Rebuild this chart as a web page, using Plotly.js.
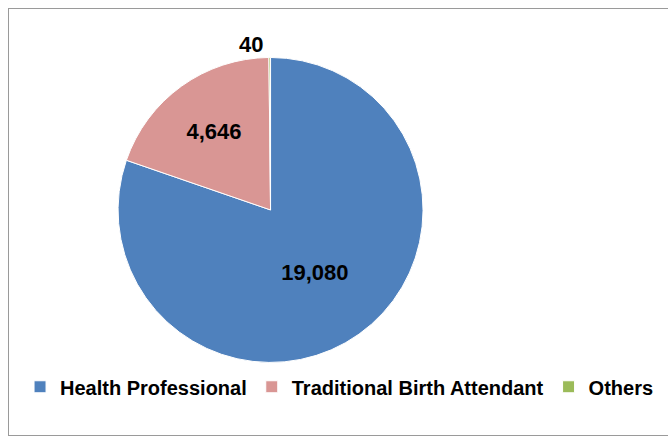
<!DOCTYPE html>
<html>
<head>
<meta charset="utf-8">
<script src="https://cdn.plot.ly/plotly-3.0.1.min.js"></script>
<style>
  html, body { margin: 0; padding: 0; background: #ffffff; }
  #frame { position: absolute; left: 8px; top: 8px; width: 668px; height: 428px; border: 1px solid #9a9a9a; box-sizing: border-box; }
  #chart { position: absolute; left: 0; top: 0; width: 668px; height: 442px; }
</style>
</head>
<body>
<div id="frame"></div>
<div id="chart"></div>
<script>
const categories = ["Health Professional", "Traditional Birth Attendant", "Others"];
const values = [19080, 4646, 40];
const colors = ["#4F81BD", "#D99694", "#9BBB59"];
const textPositions = ["inside", "inside", "outside"];

const fontFamily = "'Liberation Sans', Arial, sans-serif";

const data = [{
  type: "pie",
  labels: categories,
  values: values,
  sort: false,
  direction: "clockwise",
  rotation: 0,
  marker: { colors: colors, line: { color: "#ffffff", width: 1 } },
  texttemplate: "%{value:,}",
  textposition: textPositions,
  insidetextorientation: "horizontal",
  textfont: { family: fontFamily, size: 22, color: "#000000", weight: "bold" },
  insidetextfont: { family: fontFamily, size: 22, color: "#000000", weight: "bold" },
  outsidetextfont: { family: fontFamily, size: 22, color: "#000000", weight: "bold" },
  hoverinfo: "label+value",
  domain: { x: [0.16, 0.65], y: [0.18, 0.87] }
}];

const layout = {
  width: 668,
  height: 442,
  margin: { l: 0, r: 0, t: 0, b: 0 },
  paper_bgcolor: "rgba(0,0,0,0)",
  plot_bgcolor: "rgba(0,0,0,0)",
  showlegend: true,
  legend: {
    orientation: "h",
    x: 0.03,
    xanchor: "left",
    y: 0.125,
    yanchor: "middle",
    font: { family: fontFamily, size: 20, color: "#000000", weight: "bold" },
    itemwidth: 30,
    tracegroupgap: 0
  }
};

Plotly.newPlot("chart", data, layout, { displayModeBar: false, staticPlot: true });
</script>
</body>
</html>
